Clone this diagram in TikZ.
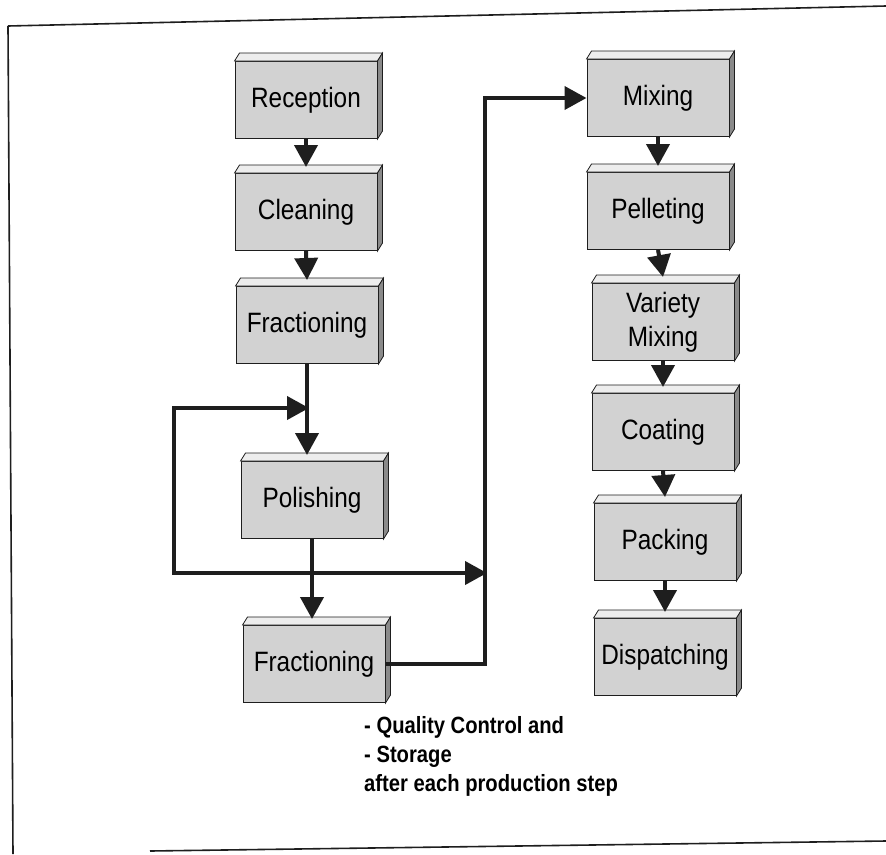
\documentclass[tikz,border=0pt]{standalone}
\usepackage{fontspec}
\setmainfont{Liberation Sans}
\newfontfamily\boxfont[FakeStretch=0.87]{Liberation Sans}
\newfontfamily\notefont[FakeStretch=0.86]{Liberation Sans}
\usetikzlibrary{arrows.meta}
\definecolor{ink}{HTML}{1E1E1E}
\definecolor{boxfill}{HTML}{D2D2D2}
\definecolor{boxtop}{HTML}{EDEDED}
\definecolor{boxside}{HTML}{8A8A8A}
\tikzset{
  stage/.style={draw=ink, line width=1pt, fill=boxfill, minimum width=142pt,
    minimum height=77pt, inner sep=0pt, align=center,
    font=\boxfont\fontsize{28}{34}\selectfont},
  flow/.style={draw=ink, line width=4pt,
    -{Triangle[width=23pt,length=22pt]}},
  plain/.style={draw=ink, line width=4pt, line cap=rect},
  frame/.style={draw=ink, line width=1.6pt},
}
\newcommand{\slab}[1]{%
  \filldraw[fill=boxtop, draw=ink, line width=0.8pt]
    (#1.north west) -- ([xshift=5pt,yshift=8pt]#1.north west)
    -- ([xshift=5pt,yshift=8pt]#1.north east) -- (#1.north east) -- cycle;
  \filldraw[fill=boxside, draw=ink, line width=0.8pt]
    (#1.north east) -- ([xshift=5pt,yshift=8pt]#1.north east)
    -- ([xshift=5pt,yshift=8pt]#1.south east) -- (#1.south east) -- cycle;}
\begin{document}
\begin{tikzpicture}[x=1pt,y=-1pt]
\useasboundingbox (0,0) rectangle (886,854);
\fill[white] (0,0) rectangle (886,854);

% outer frame
\draw[frame] (8,26) -- (886,6);
\draw[frame] (8,26) -- (13,854);
\draw[frame] (150,851) -- (886,841);

% processing stages, left column
\node[stage] (rec) at (306,100) {Reception};
\node[stage] (cle) at (306,212) {Cleaning};
\node[stage] (fr1) at (307,325) {Fractioning};
\node[stage] (pol) at (312,500) {Polishing};
\node[stage] (fr2) at (314,664) {Fractioning};

% processing stages, right column
\node[stage] (mix) at (658,98) {Mixing};
\node[stage] (pel) at (658,211) {Pelleting};
\node[stage] (var) at (663,322) {Variety\\Mixing};
\node[stage] (coa) at (663,432) {Coating};
\node[stage] (pac) at (665,542) {Packing};
\node[stage] (dis) at (665,657) {Dispatching};

\foreach \n in {rec,cle,fr1,pol,fr2,mix,pel,var,coa,pac,dis} {\slab{\n}}

% straight steps
\draw[flow] (rec.south) -- ([yshift=6pt]cle.north);
\draw[flow] (cle.south) -- ([yshift=6pt]fr1.north);
\draw[flow] (mix.south) -- ([yshift=6pt]pel.north);
\draw[flow] (pel.south) -- ([yshift=6pt]var.north);
\draw[flow] (var.south) -- ([yshift=6pt]coa.north);
\draw[flow] (coa.south) -- ([yshift=6pt]pac.north);
\draw[flow] (pac.south) -- ([yshift=6pt]dis.north);

% polishing loop
\coordinate (lt) at (174,408);
\coordinate (lb) at (174,573);
\coordinate (rt) at (485,98);
\draw[flow] (fr1.south) -- ([yshift=6pt]fr1.south |- pol.north);
\draw[flow] (pol.south) -- ([yshift=6pt]pol.south |- fr2.north);
\draw[plain] (pol.south |- lb) -- (lb) -- (lt) -- (fr1.south |- lt);
\draw[flow, shorten >=-2pt] (lb) -- (lt) -- (fr1.south |- lt);
\draw[flow, shorten >=-2pt] (lb) -- (rt |- lb);

% second fractioning to mixing
\draw[flow] (fr2.east) -- (fr2.east -| rt) -- (rt) -- (mix.west);

% note
\node[anchor=north west, align=left, inner sep=0pt,
  font=\notefont\bfseries\fontsize{23.5}{29}\selectfont] (note) at (364,716)
  {- Quality Control and\\- Storage\\after each production step};
\end{tikzpicture}
\end{document}
